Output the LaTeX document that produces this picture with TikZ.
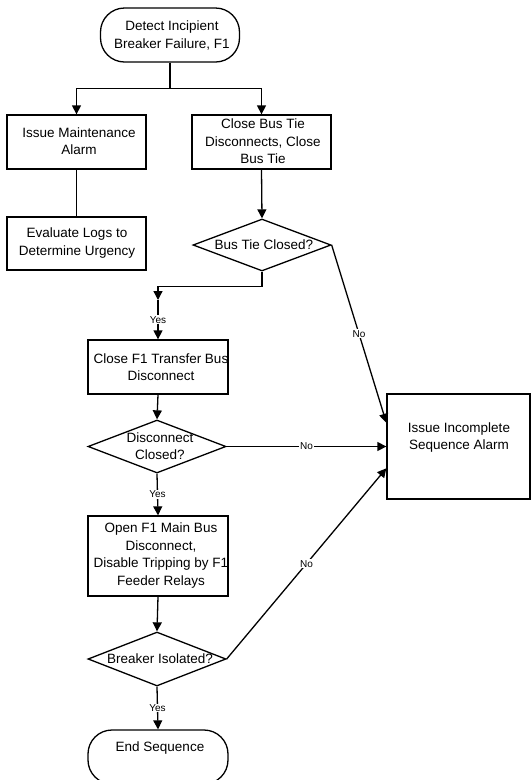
\documentclass[tikz,border=0pt]{standalone}
\usepackage{fontspec}
\setmainfont{Liberation Sans}
\usetikzlibrary{shapes.geometric,arrows.meta,calc}
\begin{document}
\begin{tikzpicture}[x=1pt,y=-1pt,
  every node/.style={font=\fontsize{13.5}{17.5}\selectfont},
  box/.style={draw, line width=1.3pt, rectangle, inner sep=0pt, align=center},
  term/.style={draw, line width=1.3pt, rectangle, rounded corners=24pt, inner sep=0pt, align=center},
  dia/.style={draw, line width=1.3pt, diamond, inner sep=0pt},
  txt/.style={inner sep=0pt, align=center},
  ln/.style={line width=1.3pt},
  arr/.style={line width=1.3pt, -{Triangle[length=9pt,width=9pt]}},
  lbl/.style={font=\fontsize{10}{12}\selectfont, fill=white, inner sep=1pt}]
\useasboundingbox (0,0) rectangle (531,780);

% nodes
\node[term, minimum width=139pt, minimum height=54pt] (start) at (170,35) {};
\node[txt] (startt) at (172,35.5) {Detect Incipient\\Breaker Failure, F1};

\node[box, minimum width=139pt, minimum height=54pt] (maint) at (76.5,142) {};
\node[txt] (maintt) at (79,141) {Issue Maintenance\\Alarm};

\node[box, minimum width=139pt, minimum height=54pt] (tie) at (261.5,142) {};
\node[txt] (tiet) at (263,141.5) {Close Bus Tie\\Disconnects, Close\\Bus Tie};

\node[box, minimum width=139pt, minimum height=53pt] (eval) at (76.5,243.5) {};
\node[txt] (evalt) at (77,243) {Evaluate Logs to\\Determine Urgency};

\node[dia, minimum width=138pt, minimum height=52pt] (d1) at (262,245) {};
\node[txt] (d1t) at (264,245) {Bus Tie Closed?};

\node[box, minimum width=140pt, minimum height=54pt] (b3) at (158,367) {};
\node[txt] (b3t) at (161,367) {Close F1 Transfer Bus\\Disconnect};

\node[dia, minimum width=138pt, minimum height=53pt] (d2) at (157,446.5) {};
\node[txt] (d2t) at (160,446) {Disconnect\\Closed?};

\node[box, minimum width=143pt, minimum height=105pt] (alarm) at (458.5,446.5) {};
\node[txt] (alarmt) at (459,437.5) {Issue Incomplete\\Sequence Alarm};

\node[box, minimum width=140pt, minimum height=80pt] (b4) at (158,556) {};
\node[txt] (b4t) at (161,555.5) {Open F1 Main Bus\\Disconnect,\\Disable Tripping by F1\\Feeder Relays};

\node[dia, minimum width=138pt, minimum height=54pt] (d3) at (157,659) {};
\node[txt] (d3t) at (160,659) {Breaker Isolated?};

\node[term, minimum width=140pt, minimum height=54pt] (end) at (158,757) {};
\node[txt] (endt) at (160,748) {End Sequence};

% connectors
\draw[arr] (start.south) -- ++(0,26) -| (maint.north);
\draw[arr] (start.south) -- ++(0,26) -| (tie.north);
\draw[ln] (maint.south) -- (eval.north);
\draw[arr] (tie.south) -- (d1.north);

\coordinate (c1) at (158,300);
\draw[arr] (d1.south) -- ++(0,15) -| (c1);
\draw[arr] (c1) -- node[lbl] (y1) {Yes} (b3.north);

\draw[arr] (d1.east) -- node[lbl] (n1) {No} ($(alarm.north west)!0.276!(alarm.south west)$);

\draw[arr] (b3.south) -- (d2.north);
\draw[arr] (d2.east) -- node[lbl] (n2) {No} (alarm.west);
\draw[arr] (d2.south) -- node[lbl] (y2) {Yes} (b4.north);

\draw[arr] (b4.south) -- (d3.north);
\draw[arr] (d3.east) -- node[lbl] (n3) {No} ($(alarm.north west)!0.705!(alarm.south west)$);
\draw[arr] (d3.south) -- node[lbl] (y3) {Yes} (end.north);
\end{tikzpicture}
\end{document}
